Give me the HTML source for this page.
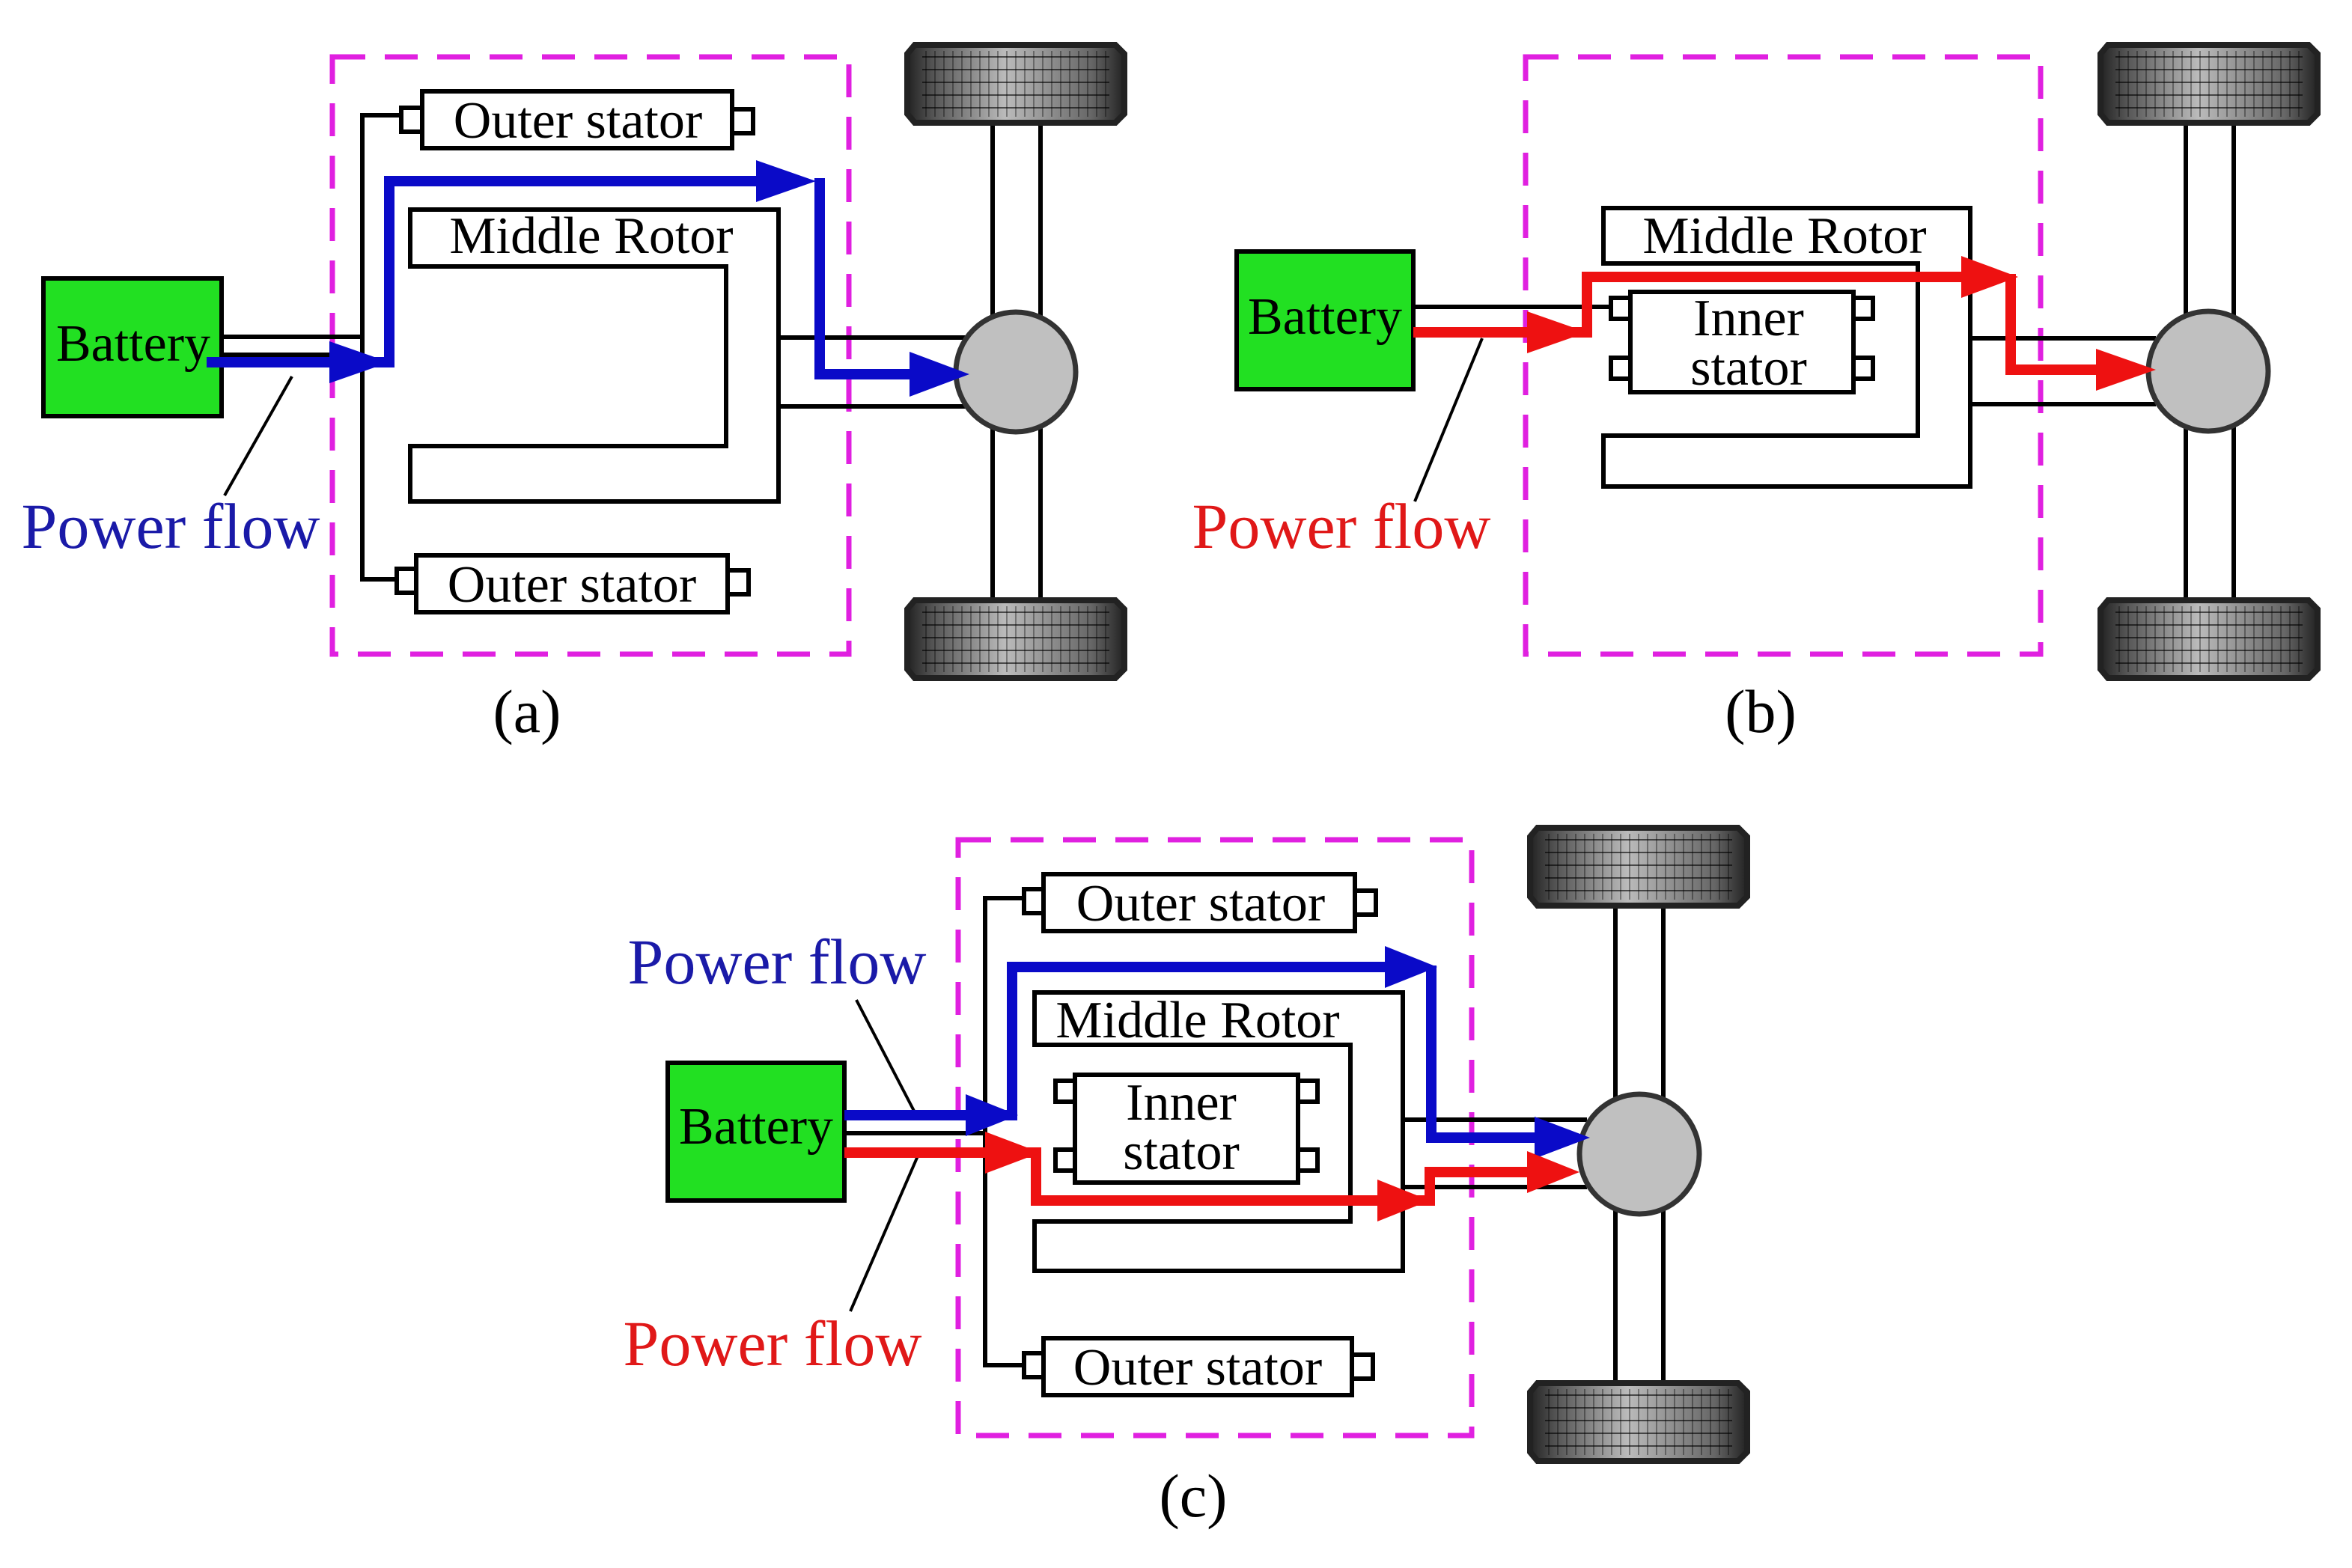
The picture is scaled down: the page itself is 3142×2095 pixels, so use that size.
<!DOCTYPE html>
<html><head><meta charset="utf-8"><style>html,body{margin:0;padding:0;background:#fff}svg{display:block}</style></head>
<body>
<svg width="3142" height="2095" viewBox="0 0 3142 2095" xmlns="http://www.w3.org/2000/svg" font-family="'Liberation Serif', serif">
<defs>
<linearGradient id="tg" x1="0" x2="1" y1="0" y2="0">
<stop offset="0" stop-color="#222"/><stop offset="0.12" stop-color="#555"/><stop offset="0.45" stop-color="#bbb"/><stop offset="0.85" stop-color="#666"/><stop offset="1" stop-color="#222"/>
</linearGradient>
<pattern id="tp" width="12" height="17" patternUnits="userSpaceOnUse">
<rect width="12" height="17" fill="none"/>
<rect x="0" y="0" width="2" height="17" fill="#000" opacity="0.35"/>
<rect x="0" y="15" width="12" height="2" fill="#000" opacity="0.6"/>
</pattern>
<g id="tire">
<path d="M10,0 H278 L290,12 V92 L278,104 H10 L0,92 V12 Z" fill="url(#tg)"/>
<rect x="20" y="8" width="250" height="88" fill="url(#tp)"/>
<path d="M10,0 H278 L290,12 V92 L278,104 H10 L0,92 V12 Z" fill="none" stroke="#222" stroke-width="8"/>
</g>
<g id="wheelset">
<line x1="114" y1="100" x2="114" y2="750" stroke="#000" stroke-width="6"/>
<line x1="178" y1="100" x2="178" y2="750" stroke="#000" stroke-width="6"/>
<use href="#tire" x="0" y="0"/>
<use href="#tire" x="0" y="742"/>
</g>
</defs>

<g fill="none" stroke="#000" stroke-width="6">
<rect x="444" y="76" width="690" height="798" stroke="#e020e0" stroke-width="7" stroke-dasharray="44,26"/>
<polyline points="564,154 484,154 484,774 556,774"/>
<path d="M548,280 H1040 V670 H548 V596 H970 V356 H548 Z"/>
<rect x="564" y="122" width="414" height="76" fill="#fff"/>
<rect x="536" y="144" width="28" height="32" fill="#fff"/>
<rect x="978" y="146" width="28" height="32" fill="#fff"/>
<rect x="556" y="742" width="416" height="76" fill="#fff"/>
<rect x="530" y="760" width="26" height="32" fill="#fff"/>
<rect x="972" y="762" width="28" height="32" fill="#fff"/>
<line x1="296" y1="450" x2="484" y2="450"/>
<line x1="296" y1="474" x2="484" y2="474"/>
<line x1="1040" y1="451" x2="1290" y2="451"/>
<line x1="1040" y1="543" x2="1290" y2="543"/>
<rect x="58" y="372" width="238" height="184" fill="#22e022"/>
<line x1="300" y1="662" x2="390" y2="503" stroke-width="4"/>

<rect x="2038" y="76" width="688" height="798" stroke="#e020e0" stroke-width="7" stroke-dasharray="44,26"/>
<path d="M2142,278 H2632 V650 H2142 V582 H2562 V352 H2142 Z"/>
<line x1="1888" y1="410" x2="2152" y2="410"/>
<rect x="2178" y="390" width="298" height="134" fill="#fff"/>
<rect x="2152" y="398" width="26" height="28" fill="#fff"/>
<rect x="2152" y="478" width="26" height="28" fill="#fff"/>
<rect x="2476" y="398" width="26" height="28" fill="#fff"/>
<rect x="2476" y="478" width="26" height="28" fill="#fff"/>
<line x1="2632" y1="452" x2="2880" y2="452"/>
<line x1="2632" y1="540" x2="2880" y2="540"/>
<rect x="1652" y="336" width="236" height="184" fill="#22e022"/>
<line x1="1980" y1="452" x2="1890" y2="670" stroke-width="4"/>

<rect x="1280" y="1122" width="686" height="796" stroke="#e020e0" stroke-width="7" stroke-dasharray="44,26"/>
<polyline points="1394,1200 1316,1200 1316,1824 1394,1824"/>
<path d="M1382,1326 H1874 V1698 H1382 V1632 H1804 V1396 H1382 Z"/>
<rect x="1394" y="1168" width="416" height="76" fill="#fff"/>
<rect x="1368" y="1188" width="26" height="32" fill="#fff"/>
<rect x="1810" y="1190" width="28" height="32" fill="#fff"/>
<rect x="1394" y="1788" width="412" height="76" fill="#fff"/>
<rect x="1368" y="1808" width="26" height="32" fill="#fff"/>
<rect x="1806" y="1810" width="28" height="32" fill="#fff"/>
<rect x="1436" y="1436" width="298" height="144" fill="#fff"/>
<rect x="1410" y="1444" width="26" height="28" fill="#fff"/>
<rect x="1410" y="1536" width="26" height="28" fill="#fff"/>
<rect x="1734" y="1444" width="26" height="28" fill="#fff"/>
<rect x="1734" y="1536" width="26" height="28" fill="#fff"/>
<line x1="1128" y1="1514" x2="1316" y2="1514"/>
<line x1="1874" y1="1496" x2="2120" y2="1496"/>
<line x1="1874" y1="1586" x2="2120" y2="1586"/>
<rect x="892" y="1420" width="236" height="184" fill="#22e022"/>
<line x1="1144" y1="1336" x2="1224" y2="1490" stroke-width="4"/>
<line x1="1136" y1="1752" x2="1228" y2="1540" stroke-width="4"/>
</g>

<use href="#wheelset" x="1212" y="60"/>
<use href="#wheelset" x="2806" y="60"/>
<use href="#wheelset" x="2044" y="1106"/>
<circle cx="1357" cy="497" r="80" fill="#c0c0c0" stroke="#333" stroke-width="7"/>
<circle cx="2950" cy="496" r="80" fill="#c0c0c0" stroke="#333" stroke-width="7"/>
<circle cx="2190" cy="1542" r="80" fill="#c0c0c0" stroke="#333" stroke-width="7"/>

<g fill="none" stroke="#0a0ac8" stroke-width="14">
<polyline points="276,484 520,484 520,242 1030,242"/>
<polyline points="1095,238 1095,500 1230,500"/>
</g>
<g fill="#0a0ac8">
<polygon points="440,456 520,484 440,512"/>
<polygon points="1010,214 1090,242 1010,270"/>
<polygon points="1215,470 1295,500 1215,530"/>
</g>

<g fill="none" stroke="#ee1111" stroke-width="14">
<polyline points="1888,444 2120,444 2120,370 2640,370"/>
<polyline points="2686,366 2686,494 2820,494"/>
</g>
<g fill="#ee1111">
<polygon points="2040,416 2120,444 2040,472"/>
<polygon points="2620,342 2696,370 2620,398"/>
<polygon points="2800,466 2880,494 2800,522"/>
</g>

<g fill="none" stroke="#0a0ac8" stroke-width="14">
<polyline points="1128,1490 1352,1490 1352,1292 1870,1292"/>
<polyline points="1912,1290 1912,1520 2060,1520"/>
</g>
<g fill="#0a0ac8">
<polygon points="1290,1462 1360,1490 1290,1518"/>
<polygon points="1850,1264 1920,1292 1850,1320"/>
<polygon points="2050,1492 2124,1520 2050,1548"/>
</g>
<g fill="none" stroke="#ee1111" stroke-width="14">
<polyline points="1128,1540 1384,1540 1384,1604 1910,1604 1910,1566 2050,1566"/>
</g>
<g fill="#ee1111">
<polygon points="1316,1512 1390,1540 1316,1568"/>
<polygon points="1840,1576 1910,1604 1840,1632"/>
<polygon points="2040,1538 2110,1566 2040,1594"/>
</g>

<g font-size="70" text-anchor="middle" fill="#000">
<text x="772" y="184">Outer stator</text>
<text x="790" y="338">Middle Rotor</text>
<text x="764" y="804">Outer stator</text>
<text x="178" y="482">Battery</text>
<text x="2384" y="338">Middle Rotor</text>
<text x="2336" y="448">Inner</text>
<text x="2336" y="514">stator</text>
<text x="1770" y="446">Battery</text>
<text x="1604" y="1230">Outer stator</text>
<text x="1600" y="1386">Middle Rotor</text>
<text x="1600" y="1850">Outer stator</text>
<text x="1578" y="1496">Inner</text>
<text x="1578" y="1562">stator</text>
<text x="1010" y="1528">Battery</text>
</g>
<g font-size="86" text-anchor="middle">
<text x="228" y="732" fill="#1a1aa8">Power flow</text>
<text x="1792" y="732" fill="#e01818">Power flow</text>
<text x="1038" y="1314" fill="#1a1aa8">Power flow</text>
<text x="1032" y="1824" fill="#e01818">Power flow</text>
</g>
<g font-size="82" text-anchor="middle" fill="#000">
<text x="704" y="978">(a)</text>
<text x="2352" y="978">(b)</text>
<text x="1594" y="2026">(c)</text>
</g>
</svg>
</body></html>
